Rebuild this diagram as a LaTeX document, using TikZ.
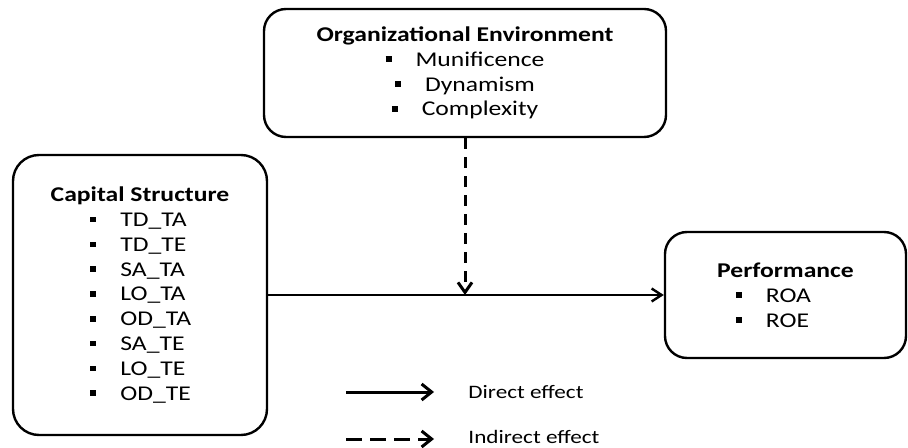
\documentclass[tikz,border=0pt]{standalone}
\usepackage{fontspec}
\setmainfont{Carlito}[FakeStretch=1.22]
\usetikzlibrary{arrows.meta,positioning}
\newcommand{\sqbul}{\rule[0.2em]{3pt}{2.8pt}}
\newcommand{\varitem}[1]{\sqbul\hspace{12pt}\makebox[3.3em][l]{#1}}

\begin{document}
\begin{tikzpicture}[x=0.5pt,y=-0.5pt,
  box/.style={draw,line width=1.2pt,rounded corners=11pt,align=center,
    font=\fontsize{10.5}{12.4}\selectfont,inner sep=0pt},
  direct/.style={-{Straight Barb[length=5pt,width=6.5pt]},line width=1.2pt},
  indirect/.style={-{Straight Barb[length=5pt,width=7pt]},line width=1.5pt,
    dash pattern=on 5.5pt off 4pt},
  legend/.style={font=\fontsize{9.5}{11}\selectfont,anchor=west,inner sep=0pt}]
  \useasboundingbox (0,0) rectangle (908,448);

  \node[box,minimum width=201pt,minimum height=64pt] (org) at (465,73)
    {\textbf{Organizational Environment}\\
     \sqbul\hspace{12pt}Munificence\\
     \sqbul\hspace{12pt}Dynamism\\
     \sqbul\hspace{12pt}Complexity};
  \node[box,rounded corners=13pt,minimum width=127pt,minimum height=140pt] (cap) at (140,295)
    {\textbf{Capital Structure}\\
     \varitem{TD\_TA}\\ \varitem{TD\_TE}\\ \varitem{SA\_TA}\\ \varitem{LO\_TA}\\
     \varitem{OD\_TA}\\ \varitem{SA\_TE}\\ \varitem{LO\_TE}\\ \varitem{OD\_TE}};
  \node[box,minimum width=120.5pt,minimum height=63pt] (perf) at (785.5,295)
    {\textbf{Performance}\\
     \varitem{ROA}\\ \varitem{ROE}};

  \draw[direct] (cap.east) -- (perf.west);
  \draw[indirect] (org.south) -- (org.south |- cap.east);

  % legend
  \coordinate (d1) at (346,392);
  \coordinate (d2) at (434,392);
  \coordinate (i1) at (346,439);
  \coordinate (i2) at (434,439);
  \draw[direct,line width=1.5pt,-{Straight Barb[length=5pt,width=8pt]}] (d1) -- (d2);
  \draw[indirect,dash pattern=on 8pt off 4pt,-{Straight Barb[length=5pt,width=8pt]}] (i1) -- (i2);
  \node[legend,right=17pt of d2] (dtext) {Direct effect};
  \node[legend,right=17pt of i2,yshift=1pt] (itext) {Indirect effect};
\end{tikzpicture}
\end{document}
